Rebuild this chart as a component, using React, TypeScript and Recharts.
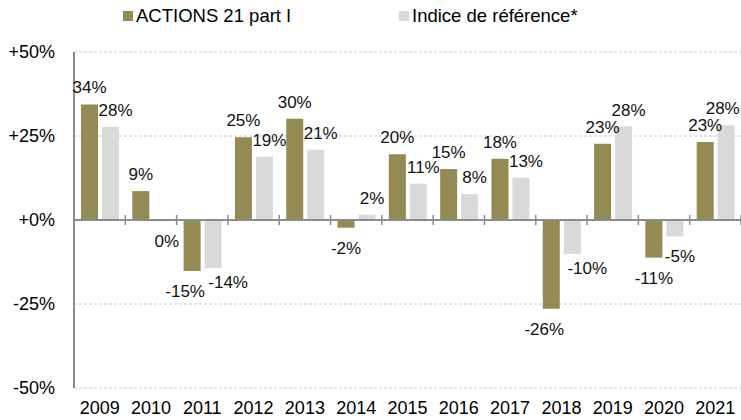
import React from "react";
import {
  Bar,
  BarChart,
  CartesianGrid,
  LabelList,
  Legend,
  ReferenceLine,
  XAxis,
  YAxis,
} from "recharts";

const years = ["2009", "2010", "2011", "2012", "2013", "2014", "2015", "2016", "2017", "2018", "2019", "2020", "2021"];
const fundReturns = [34.4, 8.6, -15.2, 24.6, 30.1, -2.3, 19.6, 15.2, 18.2, -26.4, 22.7, -11.2, 23.2];
const benchmarkReturns = [27.7, -0.4, -14.3, 18.8, 20.9, 1.6, 10.8, 7.7, 12.6, -10.1, 27.8, -4.9, 28.2];
const yTicks = [-50, -25, 0, 25, 50];

const FUND_NAME = "ACTIONS 21 part I";
const BENCH_NAME = "Indice de référence*";

const data = years.map((year, i) => ({
  year,
  fund: fundReturns[i],
  bench: benchmarkReturns[i],
}));

const font = "'Liberation Sans', Arial, sans-serif";
const axisGray = "#8c8c8c";
const CHART_W = 741;

const fmtTick = (v: number) => (v > 0 ? `+${v}%` : v === 0 ? "+0%" : `${v}%`);

// labels of both series below zero in the same year get pushed apart
function makeLabel(series: "fund" | "bench") {
  return (props: any) => {
    const { x, y, width, height, value, index } = props;
    const top = Math.min(y, y + height);
    const bottom = Math.max(y, y + height);
    const text = `${Math.round(value)}%`;
    const bothNeg = fundReturns[index] < -5 && benchmarkReturns[index] < -5;
    let cx = x + width / 2;
    let ty = value >= 0 ? top - 11 : bottom + 26;
    if (series === "bench") cx += 5;
    if (bothNeg) {
      if (series === "fund") cx -= 7;
      else {
        cx += 10;
        ty -= 6;
      }
    }
    // keep the last label inside the picture
    const half = (text.length * 17 * 0.56) / 2;
    cx = Math.min(cx, CHART_W - half - 4);
    return (
      <text x={cx} y={ty} textAnchor="middle" fontSize={17} fontFamily={font} fill="#111">
        {text}
      </text>
    );
  };
}

function ZeroLine(props: any) {
  const { x1, x2, y1 } = props;
  const n = years.length;
  const step = (x2 - x1) / n;
  const ticks = [];
  for (let i = 0; i <= n; i++) {
    const x = x1 + step * i;
    ticks.push(<line key={i} x1={x} x2={x} y1={y1 - 5} y2={y1 + 5} stroke={axisGray} strokeWidth={1.5} />);
  }
  return (
    <g>
      <line x1={x1} x2={x2} y1={y1} y2={y1} stroke={axisGray} strokeWidth={2} />
      {ticks}
    </g>
  );
}

function LegendContent(props: any) {
  const lefts = [123, 399];
  return (
    <div style={{ position: "relative", height: 30, fontFamily: font, fontSize: 18.5, color: "#000" }}>
      {(props.payload || []).map((p: any, i: number) => (
        <div key={p.value} style={{ position: "absolute", left: lefts[i], top: 6, display: "flex", alignItems: "center", whiteSpace: "nowrap", lineHeight: "20px" }}>
          <span style={{ display: "inline-block", width: 10, height: 10, background: p.color, marginRight: 3 }} />
          <span>{p.value}</span>
        </div>
      ))}
    </div>
  );
}

export default function App() {
  return (
    <div style={{ position: "absolute", left: 0, top: 0, width: CHART_W, height: 420, background: "#fff" }}>
      <BarChart
        width={CHART_W}
        height={420}
        data={data}
        margin={{ top: 22, right: 0, bottom: 0, left: 0 }}
        barSize={17}
        barGap={4}
      >
        <CartesianGrid vertical={false} stroke="#c8c8c8" strokeDasharray="3 2" />
        <XAxis
          dataKey="year"
          interval={0}
          axisLine={false}
          tickLine={false}
          tickSize={0}
          tickMargin={13}
          height={32}
          tick={{ fill: "#000", fontSize: 18, fontFamily: font }}
        />
        <YAxis
          domain={[-50, 50]}
          ticks={yTicks}
          width={74}
          tickFormatter={fmtTick}
          axisLine={{ stroke: axisGray, strokeWidth: 2 }}
          tickLine={false}
          tickSize={0}
          tickMargin={19}
          tick={{ fill: "#000", fontSize: 18, fontFamily: font }}
        />
        <Legend
          verticalAlign="top"
          height={30}
          wrapperStyle={{ top: 0, left: 0, width: CHART_W }}
          content={LegendContent}
        />
        <Bar dataKey="fund" name={FUND_NAME} fill="#948a54" isAnimationActive={false}>
          <LabelList dataKey="fund" content={makeLabel("fund")} />
        </Bar>
        <Bar dataKey="bench" name={BENCH_NAME} fill="#d9d9d9" isAnimationActive={false}>
          <LabelList dataKey="bench" content={makeLabel("bench")} />
        </Bar>
        <ReferenceLine y={0} shape={ZeroLine} />
      </BarChart>
    </div>
  );
}
